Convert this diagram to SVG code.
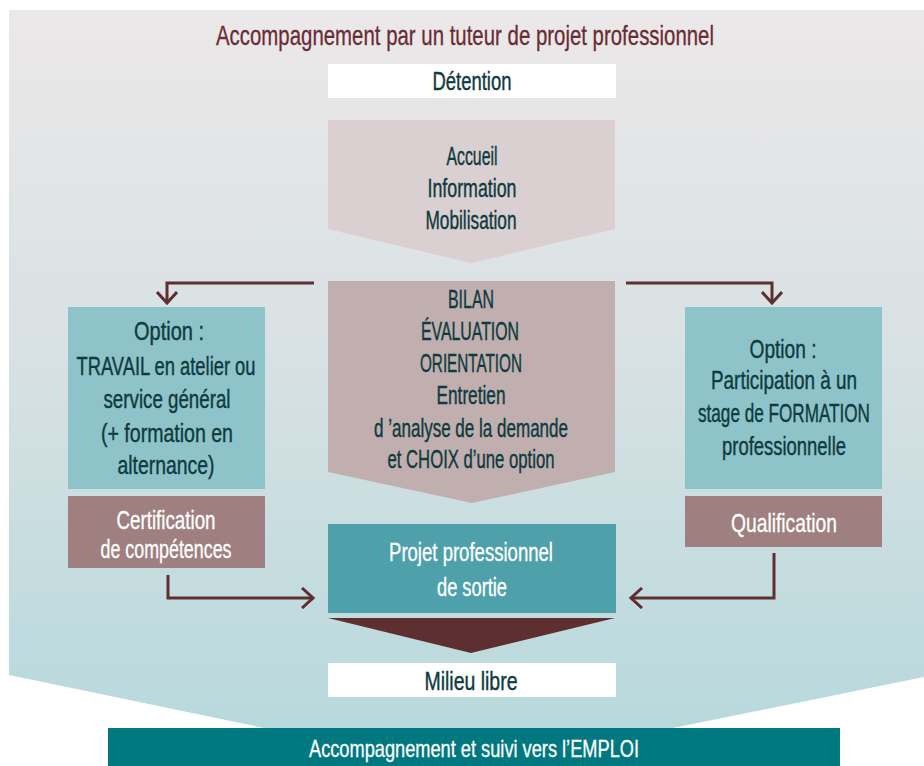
<svg xmlns="http://www.w3.org/2000/svg" width="924" height="766" viewBox="0 0 924 766">
<defs>
<linearGradient id="bg" x1="0" y1="0" x2="0" y2="1">
<stop offset="0" stop-color="#ece8e9"/>
<stop offset="0.45" stop-color="#d8e1e3"/>
<stop offset="1" stop-color="#b4d8db"/>
</linearGradient>
<marker id="chev" markerUnits="userSpaceOnUse" viewBox="0 0 14 22" refX="12" refY="11" markerWidth="14" markerHeight="22" orient="auto">
<path d="M1,1 L12,11 L1,21" fill="none" stroke="#5e2f31" stroke-width="3"/>
</marker>
<style>
text{font-family:"Liberation Sans",Arial,sans-serif;text-anchor:middle;}
.t{font-size:25px;fill:#0e3b40;stroke:#0e3b40;stroke-width:0.4px;}
.w{font-size:25px;fill:#ffffff;stroke:#ffffff;stroke-width:0.3px;}
.ttl{font-size:28px;fill:#6a2c33;stroke:#6a2c33;stroke-width:0.3px;}
.conn{fill:none;stroke:#5e2f31;stroke-width:3;marker-end:url(#chev);}
</style>
</defs>
<rect width="924" height="766" fill="#ffffff"/>
<polygon points="9,10 924,10 924,677 466,770 9,675" fill="url(#bg)"/>
<text class="ttl" x="465" y="45" textLength="498" lengthAdjust="spacingAndGlyphs">Accompagnement par un tuteur de projet professionnel</text>

<g id="detention">
<rect x="328" y="64" width="288" height="34" fill="#ffffff"/>
<text class="t" x="472" y="90" textLength="79" lengthAdjust="spacingAndGlyphs">Détention</text>
</g>

<g id="accueil">
<polygon points="328,120 615,120 615,229 471,263 328,229" fill="#dacfd1"/>
<text class="t" x="472" y="165" textLength="51" lengthAdjust="spacingAndGlyphs">Accueil</text>
<text class="t" x="472" y="197" textLength="89" lengthAdjust="spacingAndGlyphs">Information</text>
<text class="t" x="471" y="229" textLength="91" lengthAdjust="spacingAndGlyphs">Mobilisation</text>
</g>

<g id="bilan">
<polygon points="328,281 615,281 615,472 472,503 328,472" fill="#c1aeae"/>
<text class="t" x="471" y="308" textLength="46" lengthAdjust="spacingAndGlyphs">BILAN</text>
<text class="t" x="470" y="340" textLength="98" lengthAdjust="spacingAndGlyphs">ÉVALUATION</text>
<text class="t" x="471" y="372" textLength="102" lengthAdjust="spacingAndGlyphs">ORIENTATION</text>
<text class="t" x="471" y="404" textLength="69" lengthAdjust="spacingAndGlyphs">Entretien</text>
<text class="t" x="471" y="437" textLength="194" lengthAdjust="spacingAndGlyphs">d ’analyse de la demande</text>
<text class="t" x="471" y="468" textLength="167" lengthAdjust="spacingAndGlyphs">et CHOIX d’une option</text>
</g>

<g id="option-travail">
<rect x="68" y="307" width="197" height="182" fill="#8ec4c9"/>
<text class="t" x="169" y="340" textLength="70" lengthAdjust="spacingAndGlyphs">Option :</text>
<text class="t" x="166" y="375" textLength="179" lengthAdjust="spacingAndGlyphs">TRAVAIL en atelier ou</text>
<text class="t" x="167" y="408" textLength="127" lengthAdjust="spacingAndGlyphs">service général</text>
<text class="t" x="167" y="442" textLength="132" lengthAdjust="spacingAndGlyphs">(+ formation en</text>
<text class="t" x="166" y="474" textLength="97" lengthAdjust="spacingAndGlyphs">alternance)</text>
</g>

<g id="certification">
<rect x="68" y="496" width="197" height="72" fill="#a07f80"/>
<text class="w" x="166" y="529" textLength="99" lengthAdjust="spacingAndGlyphs">Certification</text>
<text class="w" x="166" y="558" textLength="131" lengthAdjust="spacingAndGlyphs">de compétences</text>
</g>

<g id="option-formation">
<rect x="685" y="307" width="197" height="182" fill="#8ec4c9"/>
<text class="t" x="783" y="358" textLength="67" lengthAdjust="spacingAndGlyphs">Option :</text>
<text class="t" x="784" y="389" textLength="146" lengthAdjust="spacingAndGlyphs">Participation à un</text>
<text class="t" x="784" y="422" textLength="172" lengthAdjust="spacingAndGlyphs">stage de FORMATION</text>
<text class="t" x="784" y="455" textLength="124" lengthAdjust="spacingAndGlyphs">professionnelle</text>
</g>

<g id="qualification">
<rect x="685" y="496" width="197" height="51" fill="#a07f80"/>
<text class="w" x="784" y="532" textLength="106" lengthAdjust="spacingAndGlyphs">Qualification</text>
</g>

<g id="projet">
<rect x="328" y="524" width="288" height="89" fill="#4ea1ab"/>
<text class="w" x="471" y="561" textLength="164" lengthAdjust="spacingAndGlyphs">Projet professionnel</text>
<text class="w" x="472" y="596" textLength="70" lengthAdjust="spacingAndGlyphs">de sortie</text>
</g>

<g id="fleche-sortie">
<polygon points="328,618 615,618 471,653" fill="#5e2f31"/>
</g>

<g id="milieu-libre">
<rect x="328" y="663" width="288" height="34" fill="#ffffff"/>
<text class="t" x="471" y="690" textLength="93" lengthAdjust="spacingAndGlyphs">Milieu libre</text>
</g>

<g id="emploi">
<rect x="108" y="728" width="732" height="38" fill="#007880"/>
<text class="w" x="474" y="757" style="font-size:24px" textLength="330" lengthAdjust="spacingAndGlyphs">Accompagnement et suivi vers l’EMPLOI</text>
</g>

<g id="connectors">
<path class="conn" d="M314,283 H167 V303"/>
<path class="conn" d="M626,283 H772 V303"/>
<path class="conn" d="M168,575 V598 H313"/>
<path class="conn" d="M774,553 V598 H631"/>
</g>
</svg>
